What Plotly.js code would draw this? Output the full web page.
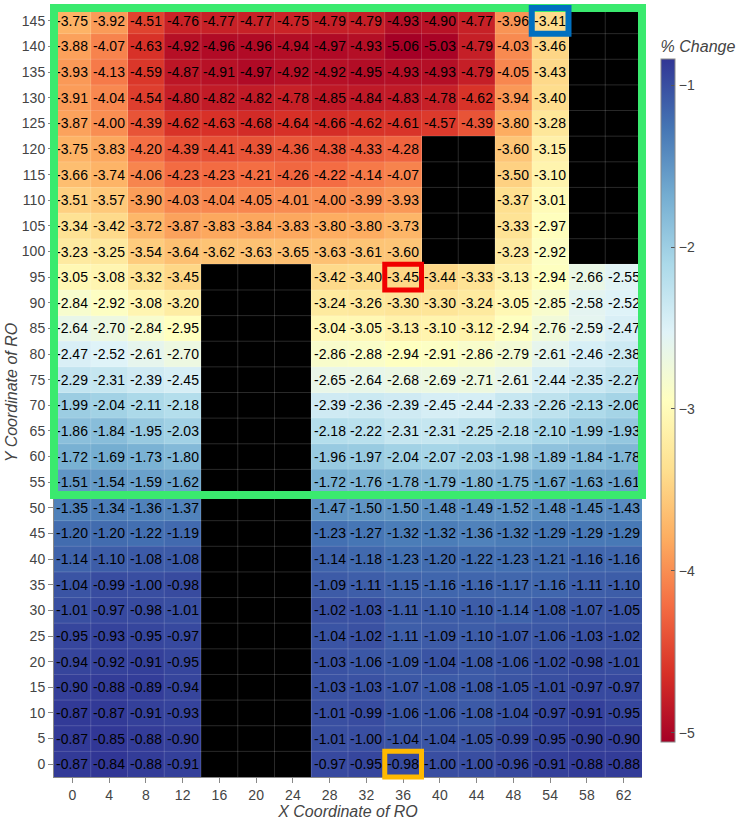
<!DOCTYPE html>
<html>
<head>
<meta charset="utf-8">
<script src="https://cdn.plot.ly/plotly-3.0.1.min.js"></script>
<style>html,body{margin:0;padding:0;background:#fff;}#chart{width:739px;height:821px;}</style>
</head>
<body>
<div id="chart"></div>
<script>
// X categories (coordinate of RO)
const xLabels = ['0','4','8','12','16','20','24','28','32','36','40','44','48','54','58','62'];
// Y values (coordinate of RO)
const yValues = [0,5,10,15,20,25,30,35,40,45,50,55,60,65,70,75,80,85,90,95,100,105,110,115,120,125,130,135,140,145];
const N = null;
// % change values, one row per y value (bottom to top)
const row0   = [-0.87,-0.84,-0.88,-0.91,N,N,N,-0.97,-0.95,-0.98,-1.00,-1.00,-0.96,-0.91,-0.88,-0.88];
const row5   = [-0.87,-0.85,-0.88,-0.90,N,N,N,-1.01,-1.00,-1.04,-1.04,-1.05,-0.99,-0.95,-0.90,-0.90];
const row10  = [-0.87,-0.87,-0.91,-0.93,N,N,N,-1.01,-0.99,-1.06,-1.06,-1.08,-1.04,-0.97,-0.91,-0.95];
const row15  = [-0.90,-0.88,-0.89,-0.94,N,N,N,-1.03,-1.03,-1.07,-1.08,-1.08,-1.05,-1.01,-0.97,-0.97];
const row20  = [-0.94,-0.92,-0.91,-0.95,N,N,N,-1.03,-1.06,-1.09,-1.04,-1.08,-1.06,-1.02,-0.98,-1.01];
const row25  = [-0.95,-0.93,-0.95,-0.97,N,N,N,-1.04,-1.02,-1.11,-1.09,-1.10,-1.07,-1.06,-1.03,-1.02];
const row30  = [-1.01,-0.97,-0.98,-1.01,N,N,N,-1.02,-1.03,-1.11,-1.10,-1.10,-1.14,-1.08,-1.07,-1.05];
const row35  = [-1.04,-0.99,-1.00,-0.98,N,N,N,-1.09,-1.11,-1.15,-1.16,-1.16,-1.17,-1.16,-1.11,-1.10];
const row40  = [-1.14,-1.10,-1.08,-1.08,N,N,N,-1.14,-1.18,-1.23,-1.20,-1.22,-1.23,-1.21,-1.16,-1.16];
const row45  = [-1.20,-1.20,-1.22,-1.19,N,N,N,-1.23,-1.27,-1.32,-1.32,-1.36,-1.32,-1.29,-1.29,-1.29];
const row50  = [-1.35,-1.34,-1.36,-1.37,N,N,N,-1.47,-1.50,-1.50,-1.48,-1.49,-1.52,-1.48,-1.45,-1.43];
const row55  = [-1.51,-1.54,-1.59,-1.62,N,N,N,-1.72,-1.76,-1.78,-1.79,-1.80,-1.75,-1.67,-1.63,-1.61];
const row60  = [-1.72,-1.69,-1.73,-1.80,N,N,N,-1.96,-1.97,-2.04,-2.07,-2.03,-1.98,-1.89,-1.84,-1.78];
const row65  = [-1.86,-1.84,-1.95,-2.03,N,N,N,-2.18,-2.22,-2.31,-2.31,-2.25,-2.18,-2.10,-1.99,-1.93];
const row70  = [-1.99,-2.04,-2.11,-2.18,N,N,N,-2.39,-2.36,-2.39,-2.45,-2.44,-2.33,-2.26,-2.13,-2.06];
const row75  = [-2.29,-2.31,-2.39,-2.45,N,N,N,-2.65,-2.64,-2.68,-2.69,-2.71,-2.61,-2.44,-2.35,-2.27];
const row80  = [-2.47,-2.52,-2.61,-2.70,N,N,N,-2.86,-2.88,-2.94,-2.91,-2.86,-2.79,-2.61,-2.46,-2.38];
const row85  = [-2.64,-2.70,-2.84,-2.95,N,N,N,-3.04,-3.05,-3.13,-3.10,-3.12,-2.94,-2.76,-2.59,-2.47];
const row90  = [-2.84,-2.92,-3.08,-3.20,N,N,N,-3.24,-3.26,-3.30,-3.30,-3.24,-3.05,-2.85,-2.58,-2.52];
const row95  = [-3.05,-3.08,-3.32,-3.45,N,N,N,-3.42,-3.40,-3.45,-3.44,-3.33,-3.13,-2.94,-2.66,-2.55];
const row100 = [-3.23,-3.25,-3.54,-3.64,-3.62,-3.63,-3.65,-3.63,-3.61,-3.60,N,N,-3.23,-2.92,N,N];
const row105 = [-3.34,-3.42,-3.72,-3.87,-3.83,-3.84,-3.83,-3.80,-3.80,-3.73,N,N,-3.33,-2.97,N,N];
const row110 = [-3.51,-3.57,-3.90,-4.03,-4.04,-4.05,-4.01,-4.00,-3.99,-3.93,N,N,-3.37,-3.01,N,N];
const row115 = [-3.66,-3.74,-4.06,-4.23,-4.23,-4.21,-4.26,-4.22,-4.14,-4.07,N,N,-3.50,-3.10,N,N];
const row120 = [-3.75,-3.83,-4.20,-4.39,-4.41,-4.39,-4.36,-4.38,-4.33,-4.28,N,N,-3.60,-3.15,N,N];
const row125 = [-3.87,-4.00,-4.39,-4.62,-4.63,-4.68,-4.64,-4.66,-4.62,-4.61,-4.57,-4.39,-3.80,-3.28,N,N];
const row130 = [-3.91,-4.04,-4.54,-4.80,-4.82,-4.82,-4.78,-4.85,-4.84,-4.83,-4.78,-4.62,-3.94,-3.40,N,N];
const row135 = [-3.93,-4.13,-4.59,-4.87,-4.91,-4.97,-4.92,-4.92,-4.95,-4.93,-4.93,-4.79,-4.05,-3.43,N,N];
const row140 = [-3.88,-4.07,-4.63,-4.92,-4.96,-4.96,-4.94,-4.97,-4.93,-5.06,-5.03,-4.79,-4.03,-3.46,N,N];
const row145 = [-3.75,-3.92,-4.51,-4.76,-4.77,-4.77,-4.75,-4.79,-4.79,-4.93,-4.90,-4.77,-3.96,-3.41,N,N];
const zRows = [row0,row5,row10,row15,row20,row25,row30,row35,row40,row45,row50,row55,row60,row65,row70,
               row75,row80,row85,row90,row95,row100,row105,row110,row115,row120,row125,row130,row135,row140,row145];

// highlighted cells: [x label, y value]
const highlightRed = ['36', 95];
const highlightBlue = ['54', 145];
const highlightOrange = ['36', 0];
const regionYStart = 55; // green region: rows from this y up to top

const rdylbu = ['#a50026','#d73027','#f46d43','#fdae61','#fee090','#ffffbf','#e0f3f8','#abd9e9','#74add1','#4575b4','#313695'];
const colorscale = rdylbu.map((c,i)=>[i/(rdylbu.length-1), c]);

const nx = xLabels.length, ny = yValues.length;
const dy = yValues[1]-yValues[0];
const yLo = yValues[0]-dy/2, yHi = yValues[ny-1]+dy/2;
function px(label, side){ const i = xLabels.indexOf(label); return (i + side)/nx; }
function py(v){ return (v - yLo)/(yHi - yLo); }
function cellRect(cell, color, width){
  return {type:'rect', xref:'paper', yref:'paper', layer:'above',
    x0:px(cell[0],0), x1:px(cell[0],1), y0:py(cell[1]-dy/2), y1:py(cell[1]+dy/2),
    line:{color:color, width:width}, fillcolor:'rgba(0,0,0,0)'};
}

const shapes = [];
// thin cell boundary lines
for (let i=1;i<nx;i++) shapes.push({type:'line', xref:'x', yref:'paper', layer:'above', x0:i-0.5, x1:i-0.5, y0:0, y1:1, line:{color:'rgba(255,255,255,0.16)', width:1}});
for (let j=1;j<ny;j++) shapes.push({type:'line', xref:'paper', yref:'y', layer:'above', x0:0, x1:1, y0:yValues[j]-dy/2, y1:yValues[j]-dy/2, line:{color:'rgba(255,255,255,0.16)', width:1}});
shapes.push({type:'rect', xref:'paper', yref:'paper', layer:'above', x0:0, x1:1, y0:py(regionYStart-dy/2), y1:1, line:{color:'rgb(58,234,110)', width:8}, fillcolor:'rgba(0,0,0,0)'});
shapes.push(cellRect(highlightRed, 'rgb(240,0,0)', 5));
shapes.push(cellRect(highlightBlue, 'rgb(0,112,192)', 6));
shapes.push(cellRect(highlightOrange, 'rgb(255,185,0)', 5));

const trace = {
  type:'heatmap', x:xLabels, y:yValues, z:zRows,
  colorscale:colorscale,
  texttemplate:'%{z:.2f}',
  textfont:{size:14, color:'#000', family:'Arial, "Liberation Sans", sans-serif'},
  hoverongaps:false,
  colorbar:{
    title:{text:'% Change', side:'top', font:{size:16, style:'italic', color:'#444'}},
    thickness:14, x:1.0325, xanchor:'left', xpad:0,
    len:0.943, y:0.032, yanchor:'bottom', ypad:10,
    outlinewidth:1, outlinecolor:'#888',
    ticks:'inside', ticklen:4, tickcolor:'#555', dtick:1,
    tickfont:{size:14, color:'#444'}
  }
};

const layout = {
  width:739, height:821,
  margin:{l:54, r:97, t:8, b:44, autoexpand:false},
  paper_bgcolor:'#fff', plot_bgcolor:'#000',
  font:{family:'Arial, "Liberation Sans", sans-serif', color:'#444', size:14},
  xaxis:{type:'category', title:{text:'X Coordinate of RO', font:{size:16, style:'italic', color:'#444'}, standoff:0},
    showgrid:false, ticks:'outside', ticklen:5, tickcolor:'#888', showline:true, linecolor:'#888', linewidth:1,
    tickfont:{size:14, color:'#444'}, zeroline:false},
  yaxis:{title:{text:'Y Coordinate of RO', font:{size:16, style:'italic', color:'#444'}, standoff:0},
    range:[yLo, yHi], tickmode:'array', tickvals:yValues, ticktext:yValues.map(String),
    showgrid:false, ticks:'outside', ticklen:5, tickcolor:'#888', showline:true, linecolor:'#888', linewidth:1,
    tickfont:{size:14, color:'#444'}, zeroline:false},
  shapes:shapes
};

Plotly.newPlot('chart', [trace], layout, {displayModeBar:false, staticPlot:true});
</script>
</body>
</html>
